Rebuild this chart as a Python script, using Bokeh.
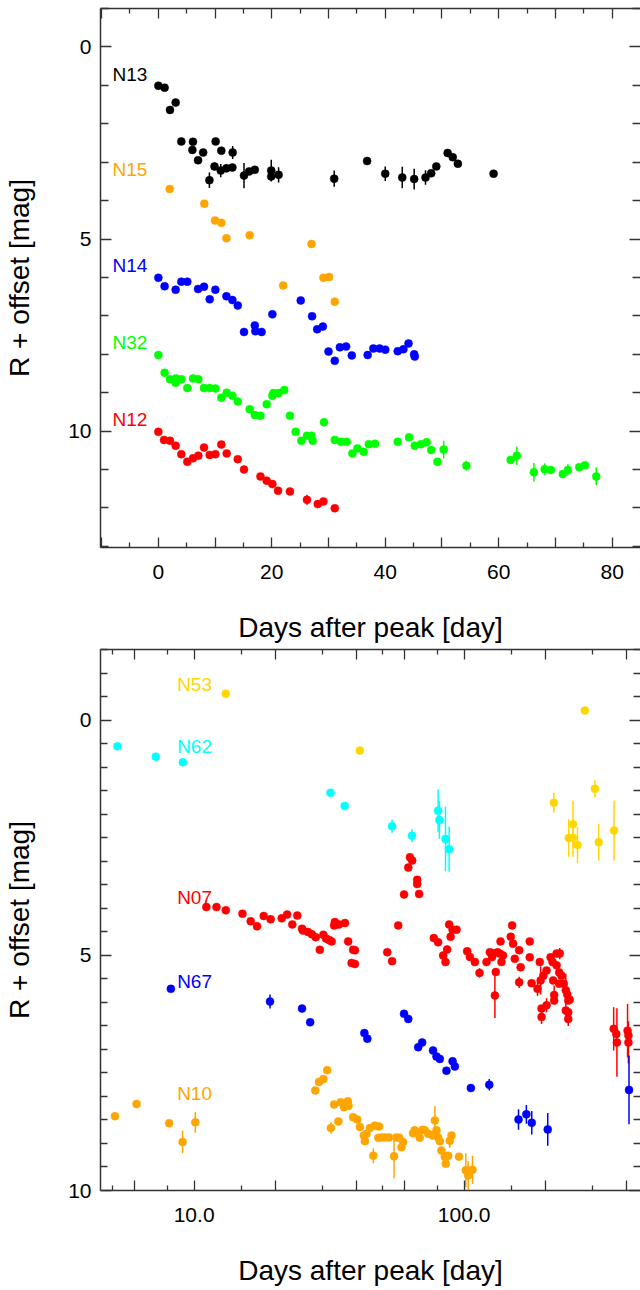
from bokeh.plotting import figure
from bokeh.models import Range1d, FixedTicker, LinearAxis, LogAxis, Label
from bokeh.layouts import column
from bokeh.embed import file_html
from bokeh.resources import INLINE

FONT = "Liberation Sans"

# ---------------- top panel data (linear days) ----------------
n13_day = [0.0, 1.1, 2.05, 3.05, 4.05, 6.0, 6.1, 7.0, 7.9, 9.0, 9.9, 10.1, 11.0, 11.1, 12.0, 13.05, 13.1,
           15.1, 16.0, 17.0, 19.9, 19.9, 21.2, 31.0, 36.8, 40.0, 43.0, 45.1, 47.1, 48.1, 49.0, 51.0, 51.9, 52.8, 59.1]
n13_mag = [1.01, 1.06, 1.64, 1.45, 2.46, 2.68, 2.47, 2.95, 2.75, 3.47, 3.11, 2.46, 3.22, 2.70, 3.16, 3.14, 2.75,
           3.35, 3.24, 3.20, 3.22, 3.37, 3.33, 3.43, 2.97, 3.30, 3.40, 3.44, 3.40, 3.29, 3.11, 2.76, 2.87, 3.04, 3.30]
n13_err = [0, 0, 0, 0, 0, 0, 0, 0, 0, 0.2, 0.1, 0, 0.17, 0, 0.1, 0, 0.17,
           0.33, 0, 0, 0.28, 0, 0.2, 0.21, 0, 0.19, 0.28, 0.27, 0.19, 0, 0, 0, 0, 0, 0]

n15_day = [2.0, 8.1, 10.0, 11.1, 12.0, 16.1, 22.0, 27.0, 29.1, 30.1, 31.1]
n15_mag = [3.70, 4.08, 4.52, 4.58, 4.98, 4.90, 6.21, 5.13, 6.01, 5.99, 6.63]
n15_err = [0] * 11

n14_day = [0.0, 1.1, 3.05, 4.05, 5.1, 7.0, 8.05, 9.05, 10.05, 12.0, 13.05, 14.0, 15.1, 17.0, 17.1, 18.2, 20.1,
           25.1, 27.1, 28.0, 29.0, 30.0, 31.1, 32.0, 33.1, 34.1, 36.9, 37.9, 39.0, 40.0, 42.2, 43.2, 44.1, 45.1, 45.2]
n14_mag = [6.01, 6.23, 6.32, 6.11, 6.11, 6.30, 6.24, 6.57, 6.32, 6.49, 6.59, 6.73, 7.42, 7.25, 7.40, 7.42, 6.96,
           6.60, 7.01, 7.35, 7.28, 7.93, 8.17, 7.82, 7.80, 8.03, 8.02, 7.85, 7.85, 7.88, 7.92, 7.87, 7.72, 8.00, 8.06]
n14_err = [0] * 35

n32_day = [0.0, 1.1, 2.05, 3.05, 3.1, 4.05, 5.1, 6.1, 7.05, 8.05, 9.05, 10.05, 11.1, 12.05, 13.05, 14.0, 16.1,
           17.0, 18.0, 19.1, 20.1, 20.3, 21.2, 22.2, 23.2, 24.2, 25.2, 26.2, 27.0, 27.2, 29.2, 31.1, 32.2, 33.2,
           34.2, 35.1, 36.2, 37.1, 38.2, 42.2, 44.2, 45.2, 46.3, 47.3, 48.1, 49.2, 50.3, 54.3, 62.1, 63.2, 66.2,
           68.1, 69.2, 71.3, 72.2, 74.2, 75.2, 77.2]
n32_mag = [8.02, 8.48, 8.65, 8.74, 8.63, 8.65, 8.88, 8.63, 8.65, 8.88, 8.88, 8.89, 9.13, 9.00, 9.08, 9.23, 9.43,
           9.58, 9.60, 9.30, 9.08, 9.01, 9.01, 8.93, 9.60, 10.02, 10.25, 10.12, 10.12, 10.25, 9.77, 10.23, 10.28,
           10.28, 10.58, 10.45, 10.54, 10.34, 10.33, 10.28, 10.16, 10.38, 10.34, 10.29, 10.49, 10.80, 10.48, 10.90,
           10.75, 10.64, 11.07, 10.99, 11.01, 11.12, 11.01, 10.94, 10.89, 11.18]
n32_err = [0] * 46 + [0.23, 0.13, 0, 0.24, 0.24, 0.15, 0, 0, 0.15, 0, 0, 0.23]

n12_day = [0.0, 1.0, 2.05, 3.05, 4.05, 5.1, 6.1, 7.05, 8.05, 9.05, 10.05, 11.1, 12.05, 14.0, 15.1, 18.0, 19.1,
           20.1, 21.1, 23.2, 26.2, 28.1, 29.1, 31.1]
n12_mag = [10.02, 10.23, 10.25, 10.38, 10.60, 10.80, 10.71, 10.64, 10.43, 10.62, 10.60, 10.35, 10.58, 10.73,
           11.00, 11.18, 11.29, 11.38, 11.55, 11.57, 11.79, 11.90, 11.83, 12.01]
n12_err = [0] * 20 + [0.13, 0, 0, 0]

top_names = ["N13", "N15", "N14", "N32", "N12"]
top_label_x = [-8.1, -8.1, -8.1, -8.1, -8.1]
top_label_y = [0.71, 3.2, 5.69, 7.69, 9.69]

# ---------------- bottom panel data (log days) ----------------
n53_day = [13.1, 41.1, 215, 244, 253, 253, 263, 280, 305, 315, 359]
n53_mag = [-0.57, 0.64, 1.75, 2.50, 2.21, 2.50, 2.65, -0.21, 1.45, 2.59, 2.34]
n53_err = [0, 0, 0.21, 0.4, 0.5, 0.4, 0.38, 0, 0.18, 0.39, 0.64]

n62_day = [5.2, 7.21, 9.08, 32.0, 36.1, 54.1, 64.1, 80.1, 81.0, 85.3, 88.0]
n62_mag = [0.55, 0.77, 0.89, 1.54, 1.82, 2.25, 2.45, 1.92, 2.12, 2.52, 2.74]
n62_err = [0, 0, 0, 0, 0, 0.14, 0.14, 0.45, 0.4, 0.69, 0.48]

n07_day = [11.1, 12.1, 13.1, 15.1, 16.2, 17.1, 18.1, 19.2, 21.1, 22.1, 23.1, 24.1, 25.1, 25.3, 26.4, 27.3, 28.2,
           29.2, 30.1, 30.8, 31.6, 32.3, 33.0, 33.2, 34.4, 36.2, 37.2, 38.3, 38.8, 39.4, 39.4, 51.9, 54.1, 57.0,
           59.9, 62.1, 63.0, 64.2, 67.0, 67.0, 68.1, 77.2, 80.1, 83.6, 85.3, 86.5, 88.0, 89.1, 90.6, 93.7, 102.6,
           105, 109.6, 114, 121, 124.5, 126.9, 128, 130, 131, 133, 135.5, 136.4, 137.5, 139.3, 148.8, 150.6, 151.8,
           154, 159.9, 159.9, 161.9, 175, 175, 177.8, 187, 190.6, 192, 193.5, 193.5, 196.5, 202, 202, 209, 212.5,
           213.6, 215.5, 215.5, 220, 220, 225, 225, 226, 229.5, 234, 238, 238, 241, 243, 243, 243, 246,
           358, 366, 368, 403, 406, 406]
n07_mag = [3.97, 3.97, 4.04, 4.11, 4.27, 4.38, 4.16, 4.23, 4.21, 4.13, 4.34, 4.15, 4.43, 4.47, 4.50, 4.55, 4.61,
           4.88, 4.56, 4.64, 4.67, 4.70, 4.36, 4.29, 4.34, 4.31, 4.70, 5.16, 4.88, 4.89, 5.18, 4.93, 5.12, 4.36,
           3.70, 3.13, 2.91, 2.98, 3.39, 3.48, 3.69, 4.63, 4.72, 5.00, 5.14, 4.87, 4.34, 4.60, 4.45, 4.45, 4.91,
           5.03, 5.14, 5.37, 5.14, 4.93, 5.03, 4.95, 5.85, 5.35, 4.93, 4.96, 4.70, 5.14, 5.00, 4.60, 4.36, 4.75,
           5.07, 4.89, 5.57, 5.25, 4.70, 5.04, 5.59, 5.71, 5.14, 5.53, 6.13, 6.31, 5.43, 5.32, 6.06, 5.04, 5.14,
           5.53, 5.84, 5.96, 4.96, 5.21, 5.36, 5.60, 4.96, 5.43, 5.60, 5.74, 6.17, 5.83, 5.96, 6.21, 6.35, 5.94,
           6.56, 6.67, 6.85, 6.60, 6.70, 6.85]
n07_err = [0] * 53 + [0.1, 0, 0, 0, 0, 0.48, 0, 0, 0, 0, 0, 0, 0, 0, 0,
                      0, 0, 0.12, 0, 0, 0, 0, 0.15, 0, 0.3, 0, 0.15, 0, 0, 0.15, 0, 0,
                      0, 0.2, 0, 0, 0, 0, 0, 0.12, 0, 0, 0.35, 0, 0, 0, 0, 0.15, 0,
                      0.46, 0, 0.73, 0.57, 0, 0.45]

n67_day = [8.2, 19.1, 25.1, 26.9, 42.7, 43.8, 59.9, 62.1, 67.6, 69.9, 76.7, 79.0, 81.3, 86.0, 90.6, 92.4, 105.9,
           123.9, 159, 170, 178, 204, 408]
n67_mag = [5.71, 5.98, 6.13, 6.42, 6.65, 6.77, 6.24, 6.35, 6.95, 6.85, 7.02, 7.15, 7.20, 7.45, 7.25, 7.36, 7.82,
           7.75, 8.49, 8.38, 8.56, 8.70, 7.86]
n67_err = [0, 0.15, 0, 0, 0, 0, 0, 0, 0, 0, 0, 0, 0, 0, 0, 0, 0, 0.12, 0.22, 0.2, 0.25, 0.35, 0.73]

n10_day = [5.09, 6.12, 8.08, 9.06, 10.1, 28.1, 29.0, 30.1, 31.1, 32.1, 33.0, 34.2, 34.9, 35.9, 37.1, 37.3, 38.8,
           40.2, 41.1, 42.5, 42.9, 43.5, 44.8, 46.1, 46.7, 48.1, 48.4, 49.5, 50.9, 52.7, 55.0, 56.2, 57.5, 58.6,
           59.4, 64.7, 65.6, 67.6, 68.5, 70.1, 71.5, 73.6, 76.4, 77.9, 79.0, 80.1, 81.3, 82.4, 84.8, 85.5, 87.3,
           88.5, 89.8, 95.7, 101.4, 103.5, 107.4]
n10_mag = [8.42, 8.16, 8.57, 8.97, 8.55, 7.87, 7.69, 7.63, 7.44, 8.67, 8.17, 8.53, 8.12, 8.23, 8.10, 8.20, 8.44,
           8.49, 8.65, 8.83, 8.95, 8.79, 8.67, 9.26, 8.62, 8.88, 8.64, 8.87, 8.87, 8.87, 9.27, 8.87, 8.88, 9.08,
           8.97, 8.78, 8.72, 8.76, 8.88, 8.71, 8.72, 8.79, 8.83, 8.51, 8.72, 8.87, 8.95, 9.15, 9.28, 9.43, 9.26,
           8.94, 8.83, 9.28, 9.57, 9.68, 9.56]
n10_err = [0, 0, 0, 0.24, 0.22, 0, 0, 0, 0, 0.12, 0, 0, 0, 0, 0, 0, 0,
           0, 0, 0, 0, 0, 0, 0.16, 0, 0, 0, 0, 0, 0, 0.47, 0, 0, 0,
           0, 0, 0, 0, 0, 0, 0, 0, 0, 0.3, 0, 0, 0, 0, 0, 0, 0,
           0.15, 0, 0, 0.36, 0.3, 0.3]

bot_names = ["N53", "N62", "N07", "N67", "N10"]
bot_label_x = [8.65, 8.65, 8.65, 8.65, 8.65]
bot_label_y = [-0.76, 0.55, 3.76, 5.55, 7.94]

top_series = [(n13_day, n13_mag, n13_err, "#000000"),
              (n15_day, n15_mag, n15_err, "#FFA500"),
              (n14_day, n14_mag, n14_err, "#0000FF"),
              (n32_day, n32_mag, n32_err, "#00FF00"),
              (n12_day, n12_mag, n12_err, "#FF0000")]
bot_series = [(n53_day, n53_mag, n53_err, "#FFD700"),
              (n62_day, n62_mag, n62_err, "#00FFFF"),
              (n07_day, n07_mag, n07_err, "#FF0000"),
              (n67_day, n67_mag, n67_err, "#0000FF"),
              (n10_day, n10_mag, n10_err, "#FFA500")]
top_colors = [s[3] for s in top_series]
bot_colors = [s[3] for s in bot_series]

AX = "#333333"


def style_main(ax, tick_in, minor_in, std):
    ax.axis_line_color = AX
    ax.axis_line_width = 1.5
    ax.major_tick_in = tick_in
    ax.major_tick_out = 0
    ax.minor_tick_in = minor_in
    ax.minor_tick_out = 0
    ax.major_tick_line_color = AX
    ax.minor_tick_line_color = AX
    ax.major_tick_line_width = 1.3
    ax.minor_tick_line_width = 1.3
    ax.major_label_text_font = FONT
    ax.major_label_text_font_size = "21px"
    ax.major_label_text_color = "#000000"
    ax.major_label_standoff = std
    ax.axis_label_text_font = FONT
    ax.axis_label_text_font_size = "28px"
    ax.axis_label_text_font_style = "normal"
    ax.axis_label_text_color = "#000000"


def tick_axis(cls, ticks, length, line):
    # tick-only axis: no major ticks, so no labels are drawn
    ax = cls(ticker=FixedTicker(ticks=[], minor_ticks=ticks))
    ax.axis_line_color = AX if line else None
    ax.axis_line_width = 1.5
    ax.minor_tick_in = length
    ax.minor_tick_out = 0
    ax.major_tick_out = 0
    ax.minor_tick_line_color = AX
    ax.minor_tick_line_width = 1.3
    ax.major_label_standoff = 0
    ax.axis_label_standoff = 0
    return ax


def draw(p, series, names, lx, ly, colors):
    for d, m, e, c in series:
        sd = [x for x, er in zip(d, e) if er > 0]
        s0 = [y - er for y, er in zip(m, e) if er > 0]
        s1 = [y + er for y, er in zip(m, e) if er > 0]
        if sd:
            p.segment(x0=sd, y0=s0, x1=sd, y1=s1, line_color=c, line_width=1.5)
        p.scatter(d, m, size=8, fill_color=c, line_color=c, line_width=0.5)
    for n, x, y, c in zip(names, lx, ly, colors):
        p.add_layout(Label(x=x, y=y, text=n, text_color=c, text_font=FONT,
                           text_font_size="19px", text_baseline="middle", text_align="left"))


# ---------------- top figure ----------------
p1 = figure(width=640, height=645, output_backend="svg", toolbar_location=None,
            x_range=Range1d(-10.2, 85.0), y_range=Range1d(13.03, -1.0),
            min_border_left=100, min_border_right=0, min_border_top=8, min_border_bottom=96)
p1.grid.visible = False
p1.outline_line_color = None

p1.xaxis.ticker = FixedTicker(ticks=[0, 20, 40, 60, 80],
                              minor_ticks=[-5 + 10 * i for i in range(9)])
p1.yaxis.ticker = FixedTicker(ticks=[0, 5, 10], minor_ticks=[v for v in range(-1, 14) if v % 5 != 0])
style_main(p1.xaxis[0], 10, 5, 17)
style_main(p1.yaxis[0], 11, 8, 9)
p1.xaxis.axis_label = "Days after peak [day]"
p1.yaxis.axis_label = "R + offset [mag]"
p1.xaxis.axis_label_standoff = 30
p1.yaxis.axis_label_standoff = 30
# long unlabeled ticks at -10, 10, 30, 50, 70 on the bottom edge
p1.below = [tick_axis(LinearAxis, [-10, 10, 30, 50, 70], 10, False)] + list(p1.below)

p1.add_layout(tick_axis(LinearAxis, [-10 + 10 * i for i in range(10)], 10, True), "above")
p1.add_layout(tick_axis(LinearAxis, [-5 + 10 * i for i in range(9)], 5, False), "above")
p1.add_layout(tick_axis(LinearAxis, [0, 5, 10], 11, False), "right")
p1.add_layout(tick_axis(LinearAxis, [v for v in range(-1, 14) if v % 5 != 0], 8, False), "right")

draw(p1, top_series, top_names, top_label_x, top_label_y, top_colors)

# ---------------- bottom figure ----------------
p2 = figure(width=640, height=645, output_backend="svg", toolbar_location=None,
            x_axis_type="log", x_range=Range1d(4.5, 450), y_range=Range1d(10.0, -1.51),
            min_border_left=100, min_border_right=0, min_border_top=4, min_border_bottom=100)
p2.grid.visible = False
p2.outline_line_color = None

p2.xaxis.ticker = FixedTicker(ticks=[10, 100], minor_ticks=[5, 8, 15, 30, 50, 80, 150, 300])
p2.yaxis.ticker = FixedTicker(ticks=[0, 5, 10],
                              minor_ticks=[-1.5 + 0.5 * i for i in range(24) if (-1.5 + 0.5 * i) % 5 != 0])
style_main(p2.xaxis[0], 10, 5, 17)
style_main(p2.yaxis[0], 11, 7, 9)
p2.xaxis.major_label_overrides = {10: "10.0", 100: "100.0"}
p2.xaxis.axis_label = "Days after peak [day]"
p2.yaxis.axis_label = "R + offset [mag]"
p2.xaxis.axis_label_standoff = 30
p2.yaxis.axis_label_standoff = 30
p2.below = [tick_axis(LogAxis, [6, 20, 40, 60, 200, 400], 10, False)] + list(p2.below)

p2.add_layout(tick_axis(LogAxis, [6, 10, 20, 40, 60, 100, 200, 400], 10, True), "above")
p2.add_layout(tick_axis(LogAxis, [5, 8, 15, 30, 50, 80, 150, 300], 5, False), "above")
p2.add_layout(tick_axis(LinearAxis, [0, 5, 10], 11, False), "right")
p2.add_layout(tick_axis(LinearAxis, [-1.5 + 0.5 * i for i in range(24) if (-1.5 + 0.5 * i) % 5 != 0], 7, False), "right")

draw(p2, bot_series, bot_names, bot_label_x, bot_label_y, bot_colors)

layout = column(p1, p2, spacing=0)
open("out.html", "w").write(file_html(layout, INLINE))
